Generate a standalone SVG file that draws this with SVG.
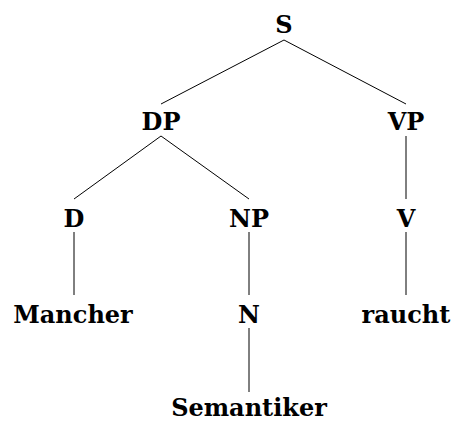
<svg xmlns="http://www.w3.org/2000/svg" width="455" height="422" viewBox="0 0 455 422">
<style>
text{font-family:"DejaVu Serif","Liberation Serif",serif;font-weight:bold;font-size:24px;fill:#000;text-anchor:middle}
line{stroke:#000;stroke-width:1}
</style>
<rect width="455" height="422" fill="#fff"/>
<g id="connectors">
<line x1="284" y1="40" x2="161" y2="104"/>
<line x1="284" y1="40" x2="406" y2="104"/>
<line x1="161" y1="136" x2="74" y2="199"/>
<line x1="161" y1="136" x2="249" y2="199"/>
<line x1="406" y1="136" x2="406" y2="199"/>
<line x1="74" y1="232" x2="74" y2="295"/>
<line x1="249" y1="232" x2="249" y2="295"/>
<line x1="406" y1="232" x2="406" y2="295"/>
<line x1="249" y1="328" x2="249" y2="392"/>
</g>
<g id="S"><text x="284" y="33">S</text></g>
<g id="DP"><text x="161" y="130">DP</text></g>
<g id="VP"><text x="406" y="130">VP</text></g>
<g id="D"><text x="74" y="227">D</text></g>
<g id="NP"><text x="249" y="227">NP</text></g>
<g id="V"><text x="406" y="227">V</text></g>
<g id="Mancher"><text x="73" y="323">Mancher</text></g>
<g id="N"><text x="249" y="323">N</text></g>
<g id="raucht"><text x="406" y="323">raucht</text></g>
<g id="Semantiker"><text x="249" y="416">Semantiker</text></g>
</svg>
